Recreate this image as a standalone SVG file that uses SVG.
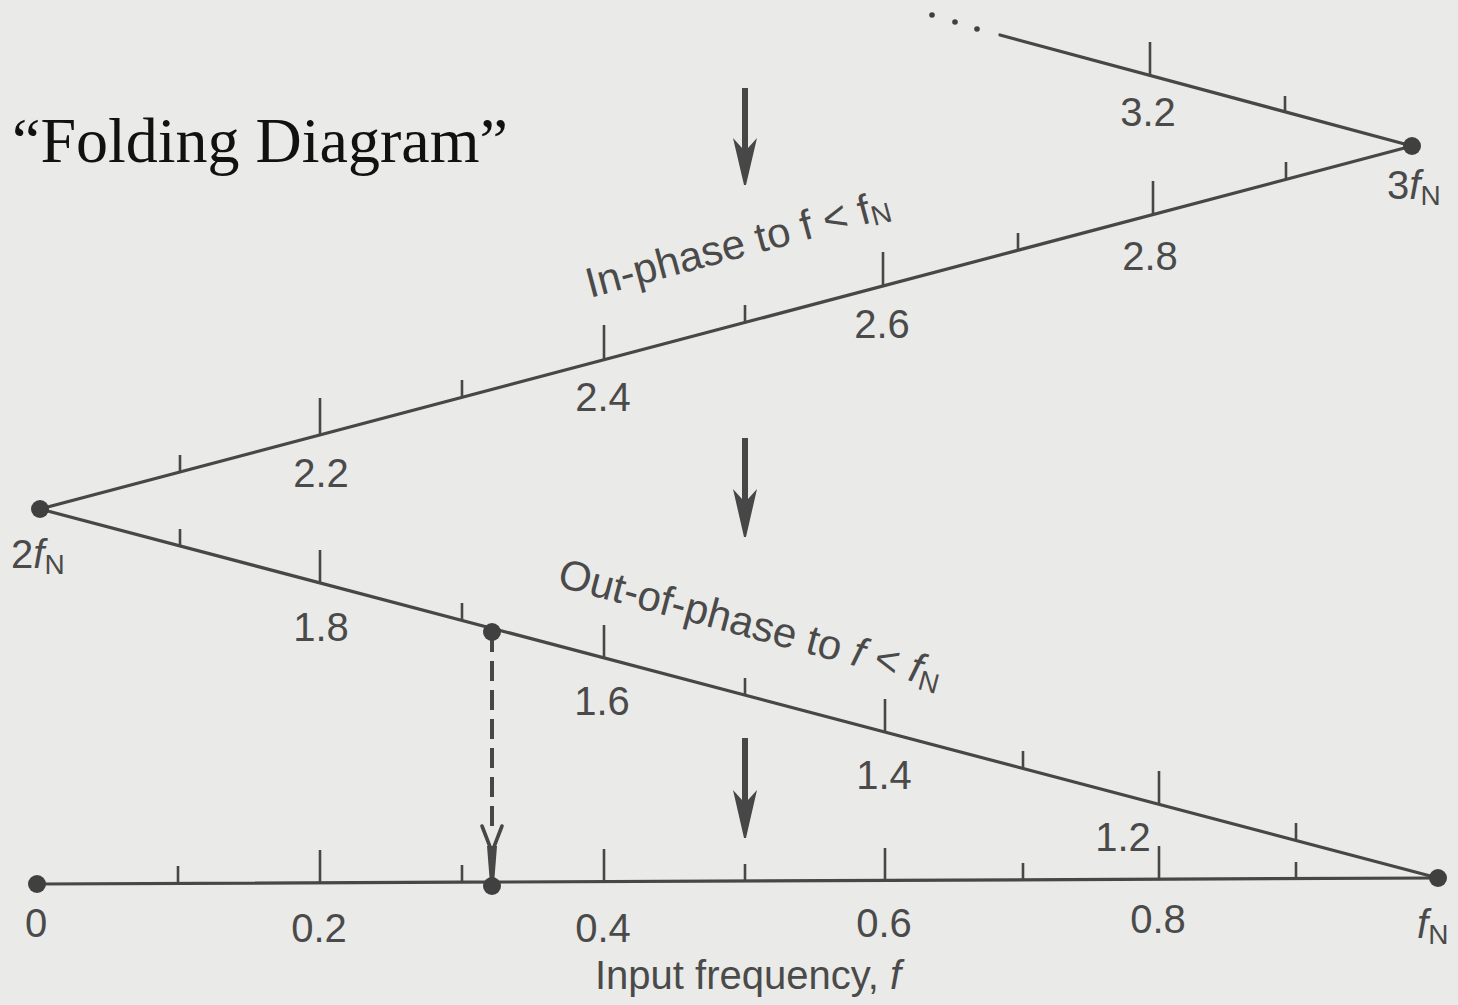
<svg xmlns="http://www.w3.org/2000/svg" width="1458" height="1005" viewBox="0 0 1458 1005">
<defs>
<style>
.ln{stroke:#474747;stroke-width:3.2;fill:none;stroke-linecap:round}
.tk{stroke:#474747;stroke-width:2.6;fill:none}
.dot{fill:#404040}
.num{font-family:"Liberation Sans",Arial,sans-serif;font-size:40px;fill:#4a4a4a;text-anchor:middle}
.lbl{font-family:"Liberation Sans",Arial,sans-serif;font-size:40px;fill:#4a4a4a}
.big{font-size:42px}
.sub{font-size:28px}
.it{font-style:italic}
.title{font-family:"Liberation Serif","Times New Roman",serif;font-size:64px;fill:#111}
.arr{fill:#474747}
</style>
</defs>
<rect x="0" y="0" width="1458" height="1005" fill="#eaeae8"/>
<text class="title" x="12" y="162">“Folding Diagram”</text>
<g id="connectors">
<line class="ln" x1="37" y1="884" x2="1438" y2="878"/>
<line class="ln" x1="40" y1="509" x2="1438" y2="878"/>
<line class="ln" x1="40" y1="509" x2="1412" y2="146"/>
<line class="ln" x1="1000" y1="35" x2="1412" y2="146"/>
<line x1="492" y1="632" x2="492" y2="835" stroke="#474747" stroke-width="4" stroke-dasharray="20 9"/>
<path d="M482,826 L492,852 L502,826" stroke="#474747" stroke-width="3.6" fill="none" stroke-linecap="round"/>
<path class="arr" d="M487,846 L497,846 L494,884 L490,884 Z"/>
</g>
<g id="ticks">
<line class="tk" x1="178" y1="866" x2="178" y2="883.4"/>
<line class="tk" x1="320" y1="850" x2="320" y2="882.8"/>
<line class="tk" x1="462" y1="865" x2="462" y2="882.2"/>
<line class="tk" x1="604" y1="849" x2="604" y2="881.6"/>
<line class="tk" x1="745" y1="864" x2="745" y2="881"/>
<line class="tk" x1="885" y1="848" x2="885" y2="880.4"/>
<line class="tk" x1="1023" y1="863" x2="1023" y2="879.8"/>
<line class="tk" x1="1159" y1="846" x2="1159" y2="879.2"/>
<line class="tk" x1="1296" y1="862" x2="1296" y2="878.6"/>
<line class="tk" x1="180" y1="529" x2="180" y2="546"/>
<line class="tk" x1="320" y1="550" x2="320" y2="583"/>
<line class="tk" x1="462" y1="603" x2="462" y2="620"/>
<line class="tk" x1="604" y1="625" x2="604" y2="658"/>
<line class="tk" x1="745" y1="678" x2="745" y2="695"/>
<line class="tk" x1="885" y1="699" x2="885" y2="732"/>
<line class="tk" x1="1023" y1="751" x2="1023" y2="768"/>
<line class="tk" x1="1159" y1="771" x2="1159" y2="804"/>
<line class="tk" x1="1296" y1="823" x2="1296" y2="840"/>
<line class="tk" x1="180" y1="455" x2="180" y2="472"/>
<line class="tk" x1="320" y1="398" x2="320" y2="435"/>
<line class="tk" x1="462" y1="380" x2="462" y2="397"/>
<line class="tk" x1="604" y1="325" x2="604" y2="360"/>
<line class="tk" x1="745" y1="305" x2="745" y2="322"/>
<line class="tk" x1="883" y1="252" x2="883" y2="286"/>
<line class="tk" x1="1018" y1="233" x2="1018" y2="250"/>
<line class="tk" x1="1153" y1="181" x2="1153" y2="214"/>
<line class="tk" x1="1286" y1="162" x2="1286" y2="179"/>
<line class="tk" x1="1150" y1="42" x2="1150" y2="75"/>
<line class="tk" x1="1285" y1="96" x2="1285" y2="112"/>
</g>
<g id="ellipsis">
<circle class="dot" cx="932" cy="15" r="2.8"/>
<circle class="dot" cx="955" cy="22" r="2.8"/>
<circle class="dot" cx="977" cy="29" r="2.8"/>
</g>
<g id="node-0"><circle class="dot" cx="37" cy="884" r="9"/><text class="num" x="36" y="937">0</text></g>
<g id="node-fN"><circle class="dot" cx="1438" cy="878" r="9"/><text class="lbl" x="1417" y="938"><tspan class="it">f</tspan><tspan class="sub" dy="6">N</tspan></text></g>
<g id="node-2fN"><circle class="dot" cx="40" cy="509" r="9"/><text class="lbl" x="11" y="568">2<tspan class="it">f</tspan><tspan class="sub" dy="6">N</tspan></text></g>
<g id="node-3fN"><circle class="dot" cx="1412" cy="146" r="9"/><text class="lbl" x="1387" y="199">3<tspan class="it">f</tspan><tspan class="sub" dy="6">N</tspan></text></g>
<g id="node-sample"><circle class="dot" cx="492" cy="632" r="9"/></g>
<g id="node-alias"><circle class="dot" cx="492" cy="886" r="9"/></g>
<g id="labels">
<text class="num" x="1148" y="126">3.2</text>
<text class="num" x="1150" y="270">2.8</text>
<text class="num" x="882" y="338">2.6</text>
<text class="num" x="603" y="411">2.4</text>
<text class="num" x="321" y="487">2.2</text>
<text class="num" x="321" y="641">1.8</text>
<text class="num" x="602" y="715">1.6</text>
<text class="num" x="884" y="789">1.4</text>
<text class="num" x="1123" y="851">1.2</text>
<text class="num" x="319" y="942">0.2</text>
<text class="num" x="603" y="942">0.4</text>
<text class="num" x="884" y="937">0.6</text>
<text class="num" x="1158" y="933">0.8</text>
<text class="lbl" x="595" y="989">Input frequency, <tspan class="it">f</tspan></text>
<text class="lbl big" transform="translate(590,298) rotate(-15)" x="0" y="0">In-phase to f &lt; f<tspan class="sub" dy="4">N</tspan></text>
<text class="lbl big" transform="translate(556,586) rotate(15)" x="0" y="0">Out-of-phase to <tspan class="it">f</tspan> &lt; <tspan class="it">f</tspan><tspan class="sub" dy="6">N</tspan></text>
</g>
<g id="arrows">
<path class="arr" d="M742,88 L748,88 L748,148 L757,138 L746,185 L744,185 L733,138 L742,148 Z"/>
<path class="arr" d="M742,438 L748,438 L748,499 L757,489 L746,537 L744,537 L733,489 L742,499 Z"/>
<path class="arr" d="M742,738 L748,738 L748,800 L757,790 L746,838 L744,838 L733,790 L742,800 Z"/>
</g>
</svg>
